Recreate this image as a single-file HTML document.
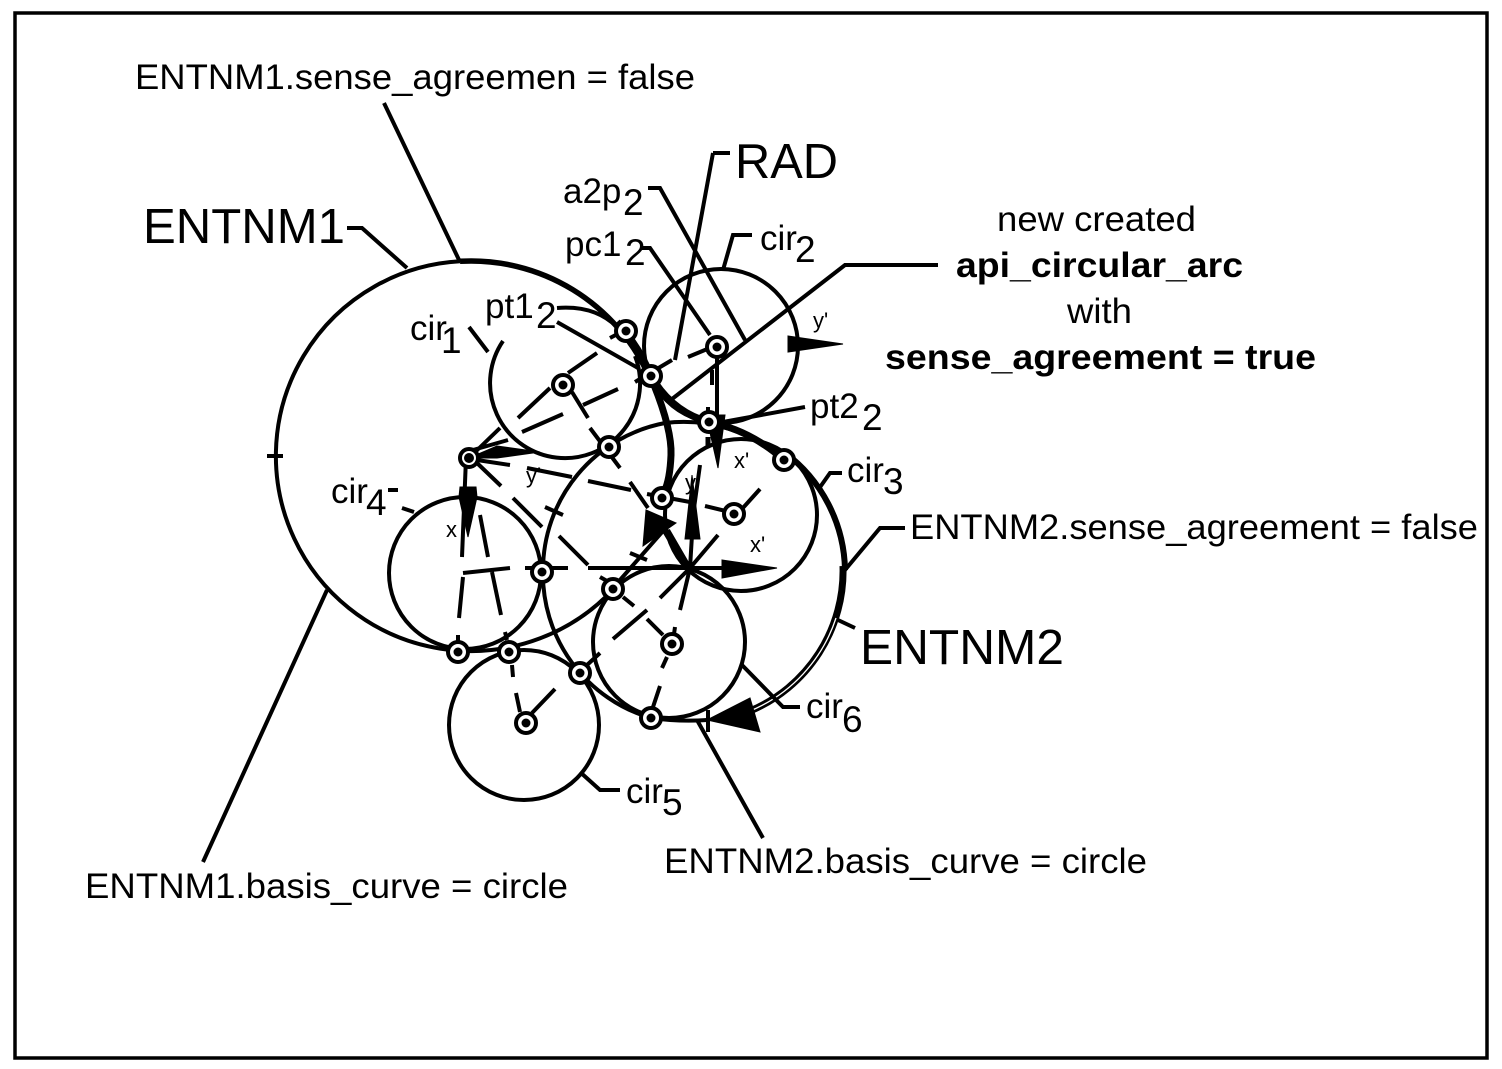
<!DOCTYPE html>
<html><head><meta charset="utf-8"><style>
html,body{margin:0;padding:0;background:#fff}
svg{display:block}
text{font-family:"Liberation Sans",sans-serif;fill:#000}
.m{font-size:35px}.l{font-size:49px}.s{font-size:22px}.b{font-size:35px;font-weight:bold}.u{font-size:37px}
</style></head><body>
<svg width="1502" height="1069" viewBox="0 0 1502 1069" xmlns="http://www.w3.org/2000/svg">
<rect x="15" y="13" width="1472" height="1045" fill="#fff" stroke="#000" stroke-width="3.5"/>
<g fill="none" stroke="#000" stroke-width="4">
<!-- ENTNM1 -->
<path d="M613.3 589.2 A195 195 0 1 1 460 261.3"/>
<path d="M460 261.3 A195 195 0 0 1 649.2 376.8" stroke-width="5.5"/>
<path d="M617 322 Q640 348 651 376" stroke-width="7"/>
<!-- circles -->
<path d="M503 341 A75 75 0 1 0 635 356"/>
<circle cx="721" cy="346" r="77"/>
<circle cx="741" cy="515" r="76"/>
<circle cx="465" cy="573" r="76"/>
<circle cx="524" cy="725" r="75"/>
<circle cx="669" cy="642" r="76"/>
<!-- ENTNM2 -->
<path d="M784 460 A150 148 0 0 0 665 423 A150 150 0 0 0 543 570 A150 150 0 0 0 651 718 Q680 722 707 720"/>
<path d="M784 452 A150 150 0 0 1 845 570" stroke-width="6"/>
<path d="M843 566 A152 152 0 0 1 750 711" stroke-width="7"/>
<path d="M836 618 A152 152 0 0 1 750 711" stroke="#fff" stroke-width="1.3"/>
<path d="M651 376 Q672 412 709 422 Q750 430 784 460" stroke-width="7"/>
<path d="M654 385 Q672 430 671 455 Q670 480 664 492" stroke-width="7"/>
<!-- leaders -->
<path d="M384 103L460 262M347 228H362L407 268M327 590L203 862M267 456H283M723 270L733 235H752M648 188H660L745 340M640 248H650L710 335M388 490H398M402 508L414 512M580 772L600 790H620M818 490L830 473H842M845 570L880 528H905M838 620L855 628M742 665L783 707H800M697 720L763 838M469 327L488 352M557 322L638 368M557 308Q595 305 617 327M805 407L723 422M938 265H845L672 399M713 153H730M713 153L675 360M635 382L672 360M688 357L717 345"/>
<!-- dashed / construction -->
<path d="M610 338L625 330M568 373L597 353M518 418L550 388M572 392L588 418M583 405L618 389M522 432L563 414"/>
<path d="M469 458L500 428M473 450L508 440M477 460L510 465M527 468L572 477M588 481L631 490M647 494L690 502M705 506L730 512M742 509L760 489"/>
<path d="M477 463L501 486M513 498L542 527M559 536L588 565M588 568H690M525 568H568M463 573L510 568M463 577L459 618M492 572L501 615M480 515L488 557M466 458L462 557"/>
<path d="M630 482L648 508M620 580L670 523M630 553L647 560M690 568L692 535M700 465L690 537M690 568L718 535M690 568L668 530M686 568L664 531M690 568L660 598M690 568L680 610"/>
<path d="M623 597L634 606M647 610L613 639M647 619L663 635M667 657L662 668M660 686L653 707M675 627L674 634M505 632L507 640M512 665L513 677M516 693L520 712M555 689L532 713M458 635V642M600 653L587 665M600 577L607 581M590 428L620 468M545 507L563 515"/>
<path d="M717 347V420M712 370V385M708 407V413M690 568H730M708 710V732"/>
<path d="M708 437V447" stroke-width="5"/>
</g>
<!-- arrowheads -->
<g fill="#000" stroke="#000" stroke-width="1">
<path d="M788 336L843 344L788 352Z"/>
<path d="M706 415L725 415L718 468Z"/>
<path d="M469 458L497 446L540 452L497 458Z"/>
<path d="M460 487L476 487L477 497L468 537L459 497Z"/>
<path d="M646 510L676 523L643 546Z"/>
<path d="M692 475L700 539H685Z"/>
<path d="M722 560L777 568L722 578Z"/>
<path d="M707 720L750 698L760 732Z"/>
</g>
<!-- nodes -->
<g fill="#fff" stroke="#000" stroke-width="4">
<circle cx="626" cy="331" r="10"/><circle cx="651" cy="376" r="10"/><circle cx="717" cy="347" r="10"/>
<circle cx="563" cy="385" r="10"/><circle cx="609" cy="447" r="10"/><circle cx="469" cy="458" r="9"/>
<circle cx="709" cy="422" r="10"/><circle cx="784" cy="460" r="10"/><circle cx="662" cy="498" r="10"/>
<circle cx="734" cy="514" r="10"/><circle cx="542" cy="572" r="10"/><circle cx="613" cy="589" r="10"/>
<circle cx="672" cy="644" r="10"/><circle cx="458" cy="652" r="10"/><circle cx="509" cy="652" r="10"/>
<circle cx="580" cy="673" r="10"/><circle cx="651" cy="718" r="10"/><circle cx="526" cy="723" r="10"/>
</g>
<g fill="#000">
<circle cx="626" cy="331" r="4.5"/><circle cx="651" cy="376" r="4.5"/><circle cx="717" cy="347" r="4.5"/>
<circle cx="563" cy="385" r="4.5"/><circle cx="609" cy="447" r="4.5"/><circle cx="469" cy="458" r="5"/>
<circle cx="709" cy="422" r="4.5"/><circle cx="784" cy="460" r="4.5"/><circle cx="662" cy="498" r="4.5"/>
<circle cx="734" cy="514" r="4.5"/><circle cx="542" cy="572" r="4.5"/><circle cx="613" cy="589" r="4.5"/>
<circle cx="672" cy="644" r="4.5"/><circle cx="458" cy="652" r="4.5"/><circle cx="509" cy="652" r="4.5"/>
<circle cx="580" cy="673" r="4.5"/><circle cx="651" cy="718" r="4.5"/><circle cx="526" cy="723" r="4.5"/>
</g>
<!-- text -->
<text class="m" x="135" y="89" textLength="560" lengthAdjust="spacingAndGlyphs">ENTNM1.sense_agreemen = false</text>
<text class="l" x="143" y="243" textLength="202" lengthAdjust="spacingAndGlyphs">ENTNM1</text>
<text class="l" x="735" y="178" textLength="103" lengthAdjust="spacingAndGlyphs">RAD</text>
<text class="l" x="860" y="664" textLength="204" lengthAdjust="spacingAndGlyphs">ENTNM2</text>
<text class="m" x="563" y="203">a2p</text><text class="u" x="623" y="215">2</text>
<text class="m" x="565" y="256">pc1</text><text class="u" x="625" y="265">2</text>
<text class="m" x="485" y="318">pt1</text><text class="u" x="536" y="328">2</text>
<text class="m" x="410" y="340">cir</text><text class="u" x="441" y="353">1</text>
<text class="m" x="760" y="250">cir</text><text class="u" x="795" y="262">2</text>
<text class="m" x="810" y="418">pt2</text><text class="u" x="862" y="430">2</text>
<text class="m" x="847" y="482">cir</text><text class="u" x="883" y="494">3</text>
<text class="m" x="331" y="503">cir</text><text class="u" x="366" y="515">4</text>
<text class="m" x="626" y="803">cir</text><text class="u" x="662" y="815">5</text>
<text class="m" x="806" y="718">cir</text><text class="u" x="842" y="732">6</text>
<text class="m" x="997" y="231" textLength="199" lengthAdjust="spacingAndGlyphs">new created</text>
<text class="b" x="956" y="277" textLength="287" lengthAdjust="spacingAndGlyphs">api_circular_arc</text>
<text class="m" x="1067" y="323" textLength="65" lengthAdjust="spacingAndGlyphs">with</text>
<text class="b" x="885" y="369" textLength="431" lengthAdjust="spacingAndGlyphs">sense_agreement = true</text>
<text class="m" x="910" y="539" textLength="568" lengthAdjust="spacingAndGlyphs">ENTNM2.sense_agreement = false</text>
<text class="m" x="664" y="873" textLength="483" lengthAdjust="spacingAndGlyphs">ENTNM2.basis_curve = circle</text>
<text class="m" x="85" y="898" textLength="483" lengthAdjust="spacingAndGlyphs">ENTNM1.basis_curve = circle</text>
<text class="s" x="813" y="328">y'</text>
<text class="s" x="734" y="468">x'</text>
<text class="s" x="526" y="483">y'</text>
<text class="s" x="685" y="490">y</text>
<text class="s" x="446" y="537">x</text>
<text class="s" x="750" y="552">x'</text>
</svg>
</body></html>
